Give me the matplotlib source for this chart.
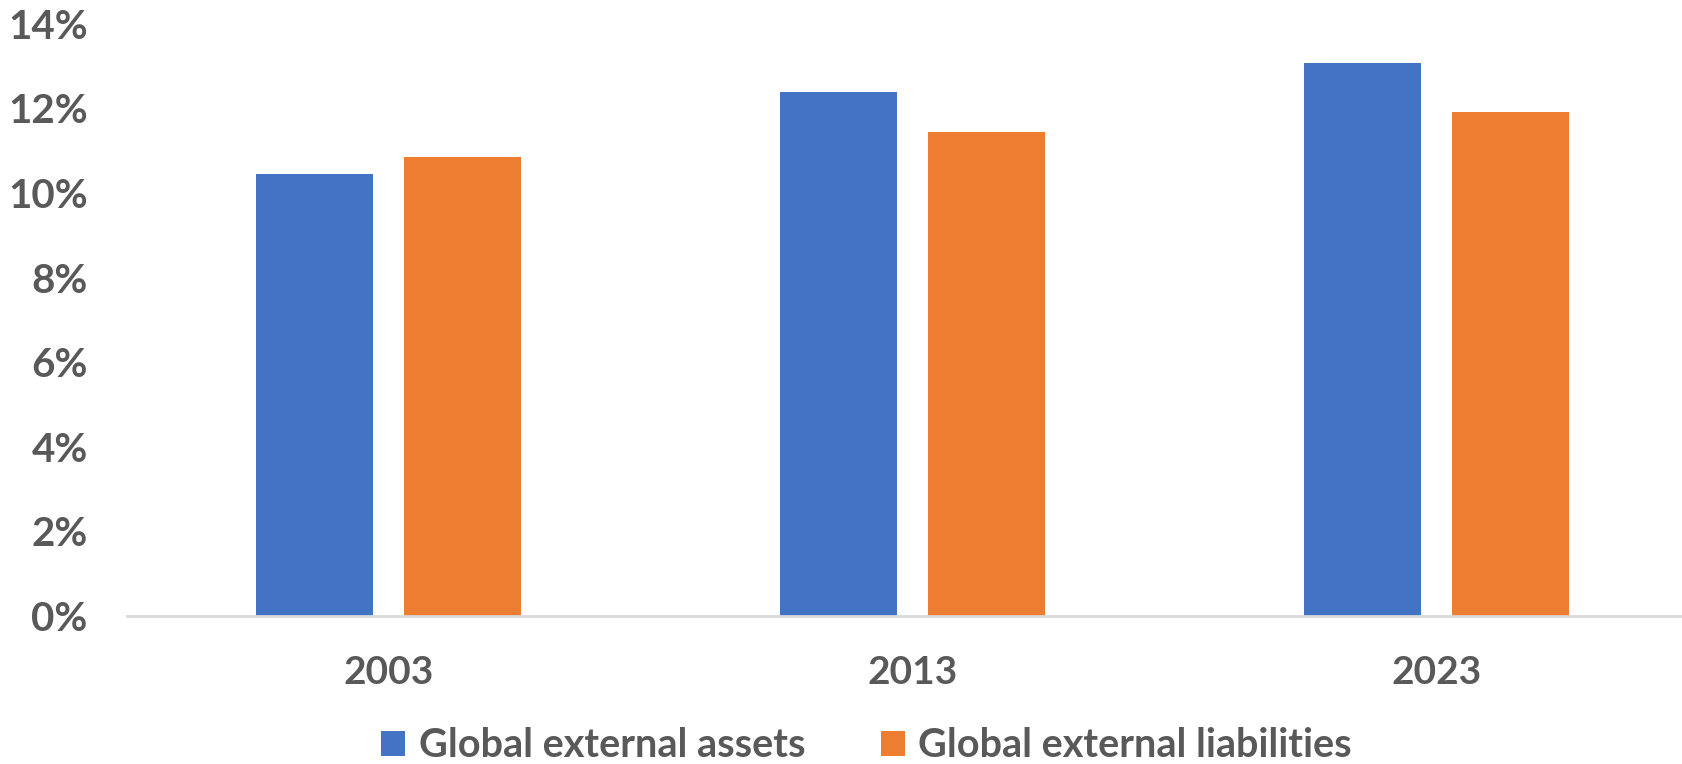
import matplotlib.pyplot as plt
import numpy as np
from matplotlib.ticker import FuncFormatter

years = ["2003", "2013", "2023"]
assets = [10.46, 12.40, 13.08]
liabilities = [10.86, 11.45, 11.91]

blue = "#4472C4"
orange = "#ED7D31"
grey = "#595959"

plt.rcParams["font.family"] = ["Lato", "DejaVu Sans"]
plt.rcParams["font.weight"] = "bold"

fig = plt.figure(figsize=(16.83, 7.64), dpi=100)
ax = fig.add_axes([0.0752, 0.1937, 0.934, 0.775])

x = np.arange(len(years))
w = 0.223
off = (w + 0.06) / 2
ax.bar(x - off, assets, w, color=blue, label="Global external assets")
ax.bar(x + off, liabilities, w, color=orange, label="Global external liabilities")

ax.set_xlim(-0.5, 2.5)
ax.set_ylim(0, 14)
ax.set_yticks(range(0, 15, 2))
ax.yaxis.set_major_formatter(FuncFormatter(lambda v, p: f"{v:.0f}%"))
ax.set_xticks(x)
ax.set_xticklabels(years)

for s in ["top", "right", "left"]:
    ax.spines[s].set_visible(False)
ax.spines["bottom"].set_color("#D9D9D9")
ax.spines["bottom"].set_linewidth(2)

ax.tick_params(axis="x", length=0, labelsize=28, labelcolor=grey, pad=28)
ax.tick_params(axis="y", length=0, labelsize=29, labelcolor=grey, pad=28)
for t in ax.get_xticklabels() + ax.get_yticklabels():
    t.set_fontweight("bold")

leg = fig.legend(loc="center", bbox_to_anchor=(0.515, 0.024), ncol=2, frameon=False,
                 fontsize=28.5, handlelength=0.6, handleheight=0.6, columnspacing=1.9,
                 handletextpad=0.35)
for t in leg.get_texts():
    t.set_color(grey)
    t.set_fontweight("bold")

fig.savefig("out.png", dpi=100)
